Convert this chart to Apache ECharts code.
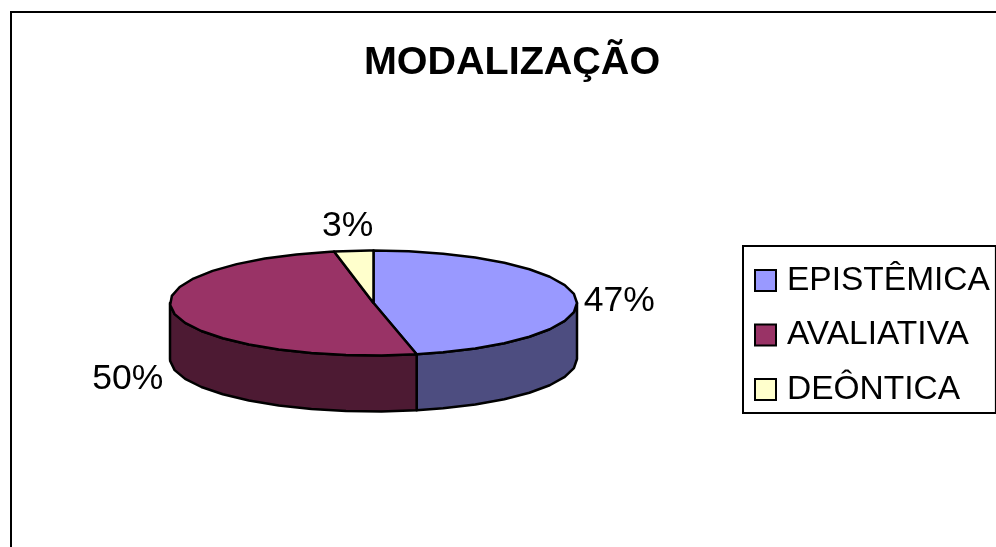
<!DOCTYPE html>
<html>
<head>
<meta charset="utf-8">
<title>MODALIZAÇÃO</title>
<script src="https://cdn.jsdelivr.net/npm/echarts@6/dist/echarts.min.js"></script>
<style>
	html, body { margin: 0; padding: 0; background: #fff; }
	#myChart { width: 996px; height: 547px; }
</style>
</head>
<body>
<div id="myChart"></div>
<script>
	const titleText = 'MODALIZAÇÃO';
	const categories = ['EPISTÊMICA', 'AVALIATIVA', 'DEÔNTICA'];
	const values = [46.6, 50.3, 3.1];
	const topColors = ['#9999FF', '#993366', '#FFFFCC'];
	const wallColors = ['#4D4D80', '#4D1A33', '#80806A'];

	// pie geometry: no 3D pie in plain echarts, so it is a squashed ellipse
	const cx = 373.5, cy = 303, rx = 203.5, ry = 52.5, depth = 56, step = 10;
	const labelFont = '35.5px "Liberation Sans", Arial, sans-serif';
	const total = values.reduce((a, b) => a + b, 0);

	function point(deg, drop) {
		const rad = deg * Math.PI / 180;
		return [cx + rx * Math.sin(rad), cy - ry * Math.cos(rad) + drop];
	}

	function arc(from, to, drop) {
		const pts = [];
		for (let a = from; a < to; a += step) {
			pts.push(point(a, drop));
		}
		pts.push(point(to, drop));
		return pts;
	}

	function sliceAngles(index) {
		let before = 0;
		for (let i = 0; i < index; i++) {
			before += values[i];
		}
		return [before / total * 360, (before + values[index]) / total * 360];
	}

	function labelFor(index, mid) {
		const p = point(mid, 0);
		const s = Math.sin(mid * Math.PI / 180);
		const text = Math.round(values[index] / total * 100) + '%';
		let x, y, align;
		if (Math.abs(s) < 0.3) {
			x = p[0] - 6; y = p[1] - 25; align = 'center';
		} else if (s > 0) {
			x = p[0] + 8; y = p[1] + 4; align = 'left';
		} else {
			x = p[0] - 11; y = p[1] + depth + 10; align = 'right';
		}
		return {
			type: 'text',
			z2: 10,
			style: { text: text, x: x, y: y, align: align, verticalAlign: 'middle', font: labelFont, fill: '#000' }
		};
	}

	function renderSlice(index) {
		return function () {
			const ang = sliceAngles(index);
			const children = [];
			// only the front half of the rim is visible
			const wallFrom = Math.max(ang[0], 90), wallTo = Math.min(ang[1], 270);
			if (wallTo > wallFrom) {
				const top = arc(wallFrom, wallTo, 0);
				const bottom = arc(wallFrom, wallTo, depth).reverse();
				children.push({
					type: 'polygon',
					shape: { points: top.concat(bottom) },
					style: { fill: wallColors[index], stroke: '#000', lineWidth: 2.5, lineJoin: 'round' }
				});
			}
			children.push({
				type: 'polygon',
				shape: { points: [[cx, cy]].concat(arc(ang[0], ang[1], 0)) },
				style: { fill: topColors[index], stroke: '#000', lineWidth: 2.5, lineJoin: 'round' }
			});
			children.push(labelFor(index, (ang[0] + ang[1]) / 2));
			return { type: 'group', children: children };
		};
	}

	const myChart = echarts.init(document.getElementById('myChart'), null, { renderer: 'canvas' });
	myChart.setOption({
		animation: false,
		backgroundColor: '#fff',
		title: {
			text: titleText,
			left: 507,
			top: 38,
			textAlign: 'center',
			textStyle: { fontFamily: '"Liberation Sans", Arial, sans-serif', fontSize: 39.5, fontWeight: 'bold', color: '#000' }
		},
		legend: {
			data: categories,
			orient: 'vertical',
			left: 743,
			top: 246,
			padding: [17.5, 6, 6.5, 11],
			itemWidth: 21,
			itemHeight: 21,
			itemGap: 20.5,
			icon: 'rect',
			borderColor: '#000',
			borderWidth: 2,
			selectedMode: false,
			itemStyle: { borderColor: '#000', borderWidth: 2 },
			textStyle: { fontFamily: '"Liberation Sans", Arial, sans-serif', fontSize: 33.5, color: '#000', padding: [0, 0, 0, 6] }
		},
		graphic: [{
			type: 'rect',
			silent: true,
			shape: { x: 11, y: 12, width: 1200, height: 800 },
			style: { fill: 'none', stroke: '#000', lineWidth: 2 }
		}],
		series: categories.map(function (name, i) {
			return {
				type: 'custom',
				name: name,
				coordinateSystem: 'none',
				silent: true,
				itemStyle: { color: topColors[i] },
				renderItem: renderSlice(i),
				data: [[values[i]]]
			};
		})
	});
</script>
</body>
</html>
